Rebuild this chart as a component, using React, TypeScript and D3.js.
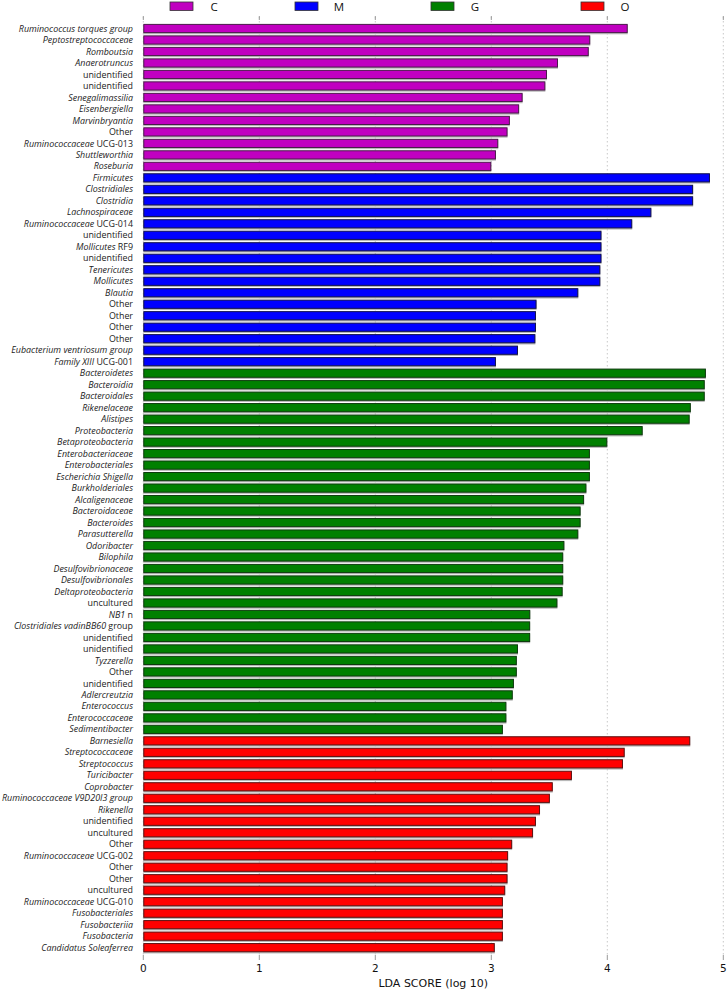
import React from "react";
import * as d3 from "d3";

// Labels: "italicPart|romanPart"
const cLabels = [
  "Ruminococcus torques group|", "Peptostreptococcaceae|", "Romboutsia|", "Anaerotruncus|",
  "|unidentified", "|unidentified", "Senegalimassilia|", "Eisenbergiella|", "Marvinbryantia|",
  "|Other", "Ruminococcaceae| UCG-013", "Shuttleworthia|", "Roseburia|",
];
const cValues = [4.176, 3.853, 3.84, 3.575, 3.48, 3.466, 3.27, 3.24, 3.16, 3.14, 3.06, 3.04, 3.0];

const mLabels = [
  "Firmicutes|", "Clostridiales|", "Clostridia|", "Lachnospiraceae|", "Ruminococcaceae| UCG-014",
  "|unidentified", "Mollicutes| RF9", "|unidentified", "Tenericutes|", "Mollicutes|", "Blautia|",
  "|Other", "|Other", "|Other", "|Other", "Eubacterium ventriosum group|", "Family XIII| UCG-001",
];
const mValues = [4.885, 4.74, 4.74, 4.38, 4.215, 3.95, 3.95, 3.95, 3.94, 3.94, 3.75, 3.39, 3.385, 3.385, 3.38, 3.23, 3.04];

const gLabels = [
  "Bacteroidetes|", "Bacteroidia|", "Bacteroidales|", "Rikenelaceae|", "Alistipes|", "Proteobacteria|",
  "Betaproteobacteria|", "Enterobacteriaceae|", "Enterobacteriales|", "Escherichia Shigella|",
  "Burkholderiales|", "Alcaligenaceae|", "Bacteroidaceae|", "Bacteroides|", "Parasutterella|",
  "Odoribacter|", "Bilophila|", "Desulfovibrionaceae|", "Desulfovibrionales|", "Deltaproteobacteria|",
  "|uncultured", "NB1| n", "Clostridiales vadinBB60| group", "|unidentified", "|unidentified",
  "Tyzzerella|", "|Other", "|unidentified", "Adlercreutzia|", "Enterococcus|", "Enterococcaceae|",
  "Sedimentibacter|",
];
const gValues = [4.85, 4.84, 4.84, 4.72, 4.71, 4.305, 4.0, 3.85, 3.85, 3.85, 3.82, 3.8, 3.77, 3.77, 3.75,
  3.63, 3.62, 3.62, 3.62, 3.615, 3.57, 3.336, 3.335, 3.335, 3.23, 3.22, 3.22, 3.195, 3.185, 3.13, 3.13, 3.1];

const oLabels = [
  "Barnesiella|", "Streptococcaceae|", "Streptococcus|", "Turicibacter|", "Coprobacter|",
  "Ruminococcaceae V9D20I3 group|", "Rikenella|", "|unidentified", "|uncultured", "|Other",
  "Ruminococcaceae| UCG-002", "|Other", "|Other", "|uncultured", "Ruminococcaceae| UCG-010",
  "Fusobacteriales|", "Fusobacteriia|", "Fusobacteria|", "Candidatus Soleaferrea|",
];
const oValues = [4.715, 4.15, 4.135, 3.695, 3.53, 3.505, 3.42, 3.385, 3.36, 3.18, 3.145, 3.14, 3.14,
  3.12, 3.1, 3.1, 3.1, 3.1, 3.03];

const groupNames = ["C", "M", "G", "O"];
const groupColors = ["#c000c0", "#0000ff", "#008000", "#ff0000"];
const groupEdges = ["#4a1a4a", "#10104a", "#0d3a0d", "#5a1010"];
const xTicks = [0, 1, 2, 3, 4, 5];

export default function App() {
  const W = 727, H = 992;
  const groups = [
    { labels: cLabels, values: cValues },
    { labels: mLabels, values: mValues },
    { labels: gLabels, values: gValues },
    { labels: oLabels, values: oValues },
  ];
  const rows: { label: string; value: number; g: number }[] = [];
  groups.forEach((grp, gi) => grp.labels.forEach((l, i) => rows.push({ label: l, value: grp.values[i], g: gi })));

  const x = d3.scaleLinear().domain([0, 5]).range([143.3, 723.3]);
  const y = d3.scaleBand<number>().domain(rows.map((_, i) => i)).range([22.75, 953.4]).paddingInner(0.2).paddingOuter(0.1);
  const bw = y.bandwidth();

  const legendX = [170, 295, 431, 581];

  return (
    <svg width={W} height={H} style={{ position: "absolute", left: 0, top: 0, background: "#fff" }}>
      {/* gridlines */}
      {xTicks.map((t) => (
        <g key={"g" + t}>
          <line x1={x(t)} x2={x(t)} y1={17} y2={957} stroke="#c8c8c8" strokeWidth={1} strokeDasharray="1.5,2.5" />
          <line x1={x(t)} x2={x(t)} y1={16} y2={20} stroke="#999" strokeWidth={1} />
          <line x1={x(t)} x2={x(t)} y1={955} y2={960} stroke="#999" strokeWidth={1} />
          <text x={x(t)} y={972} textAnchor="middle" fontFamily="DejaVu Sans" fontSize={10.5} fill="#111">{t}</text>
        </g>
      ))}
      {/* bars */}
      {rows.map((r, i) => {
        const yy = y(i)!;
        return (
          <g key={"b" + i}>
            <rect x={x(0)} y={yy + 1.2} width={x(r.value) - x(0)} height={bw} fill="#b8b8b8" />
            <rect x={x(0) + 0.5} y={yy + 0.5} width={x(r.value) - x(0) - 1} height={bw - 1} fill={groupColors[r.g]} stroke={groupEdges[r.g]} strokeWidth={1} />
          </g>
        );
      })}
      {/* labels */}
      {rows.map((r, i) => {
        const [it, ro] = r.label.split("|");
        return (
          <text key={"l" + i} x={133} y={y(i)! + bw / 2} dy="0.35em" textAnchor="end" fontFamily="Open Sans" fontSize={8.9} fill="#222">
            {it && <tspan fontStyle="italic">{it}</tspan>}
            {ro && <tspan>{ro}</tspan>}
          </text>
        );
      })}
      {/* legend */}
      {groupNames.map((n, i) => (
        <g key={"lg" + n}>
          <rect x={legendX[i]} y={2} width={23} height={8.5} fill={groupColors[i]} stroke="#333" strokeWidth={0.8} />
          <text x={legendX[i] + 44} y={11} textAnchor="middle" fontFamily="Open Sans" fontSize={11.5} fill="#111">{n}</text>
        </g>
      ))}
      <text x={(x(0) + x(5)) / 2} y={987} textAnchor="middle" fontFamily="DejaVu Sans" fontSize={11} fill="#111">LDA SCORE (log 10)</text>
    </svg>
  );
}
